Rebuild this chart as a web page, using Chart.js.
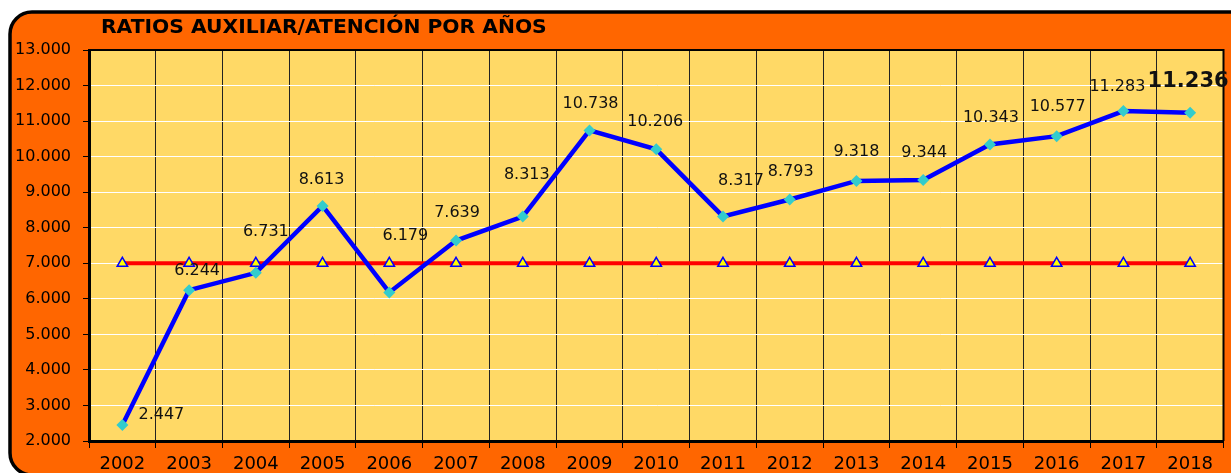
<!DOCTYPE html>
<html>
<head>
<meta charset="utf-8">
<script src="https://cdn.jsdelivr.net/npm/chart.js@4/dist/chart.umd.min.js"></script>
<style>
  body { margin: 0; background: #fff; }
  canvas { display: block; }
</style>
</head>
<body>
<canvas id="grafic" width="1231" height="473"></canvas>
<script>
var titol = 'RATIOS AUXILIAR/ATENCIÓN POR AÑOS';
var anys = ['2002', '2003', '2004', '2005', '2006', '2007', '2008', '2009', '2010',
            '2011', '2012', '2013', '2014', '2015', '2016', '2017', '2018'];
var ratios = [2447, 6244, 6731, 8613, 6179, 7639, 8313, 10738, 10206,
              8317, 8793, 9318, 9344, 10343, 10577, 11283, 11236];
var referencia = [7000, 7000, 7000, 7000, 7000, 7000, 7000, 7000, 7000,
                  7000, 7000, 7000, 7000, 7000, 7000, 7000, 7000];

// desplaçament de cada etiqueta respecte al seu punt (dx, dy)
var despl = [[39, -10], [8, -19], [10, -41], [-1, -26], [16, -57], [1, -28], [4, -42],
             [1, -27], [-1, -27], [18, -36], [1, -28], [0, -29], [1, -27], [1, -27],
             [1, -29], [-6, -24], [-2, -31]];

function format(v) {
    return (v / 1000).toFixed(3);
}

function rodo(ctx, x, y, w, h, r) {
    ctx.beginPath();
    ctx.moveTo(x + r, y);
    ctx.lineTo(x + w - r, y);
    ctx.arcTo(x + w, y, x + w, y + r, r);
    ctx.lineTo(x + w, y + h - r);
    ctx.arcTo(x + w, y + h, x + w - r, y + h, r);
    ctx.lineTo(x + r, y + h);
    ctx.arcTo(x, y + h, x, y + h - r, r);
    ctx.lineTo(x, y + r);
    ctx.arcTo(x, y, x + r, y, r);
    ctx.closePath();
}

var fons = {
    id: 'fons',
    beforeDraw: function(chart) {
        var ctx = chart.ctx;
        var a = chart.chartArea;
        ctx.save();
        ctx.fillStyle = '#ffffff';
        ctx.fillRect(0, 0, chart.width, chart.height);
        rodo(ctx, 10, 12, chart.width + 30, chart.height - 10, 22);
        ctx.fillStyle = '#FF6600';
        ctx.fill();
        ctx.lineWidth = 3.5;
        ctx.strokeStyle = '#000';
        ctx.stroke();
        ctx.fillStyle = '#FFD966';
        ctx.fillRect(a.left, a.top, a.right - a.left, a.bottom - a.top);
        ctx.fillStyle = '#000';
        ctx.font = 'bold 20.3px "DejaVu Sans"';
        ctx.textAlign = 'left';
        ctx.textBaseline = 'middle';
        ctx.fillText(titol, 101, 28);
        ctx.restore();
    },
    beforeDatasetsDraw: function(chart) {
        var ctx = chart.ctx;
        var a = chart.chartArea;
        ctx.save();
        ctx.strokeStyle = '#000';
        ctx.lineWidth = 2;
        ctx.beginPath();
        ctx.moveTo(a.left, a.top);
        ctx.lineTo(a.right, a.top);
        ctx.lineTo(a.right, a.bottom);
        ctx.stroke();
        ctx.restore();
    },
    afterDatasetsDraw: function(chart) {
        var ctx = chart.ctx;
        var punts = chart.getDatasetMeta(0).data;
        ctx.save();
        ctx.fillStyle = '#111';
        ctx.textAlign = 'center';
        ctx.textBaseline = 'middle';
        for (var i = 0; i < punts.length; i++) {
            var p = punts[i];
            if (i == punts.length - 1) {
                ctx.font = 'bold 21px "DejaVu Sans"';
            } else {
                ctx.font = '16px "DejaVu Sans"';
            }
            ctx.fillText(format(ratios[i]), p.x + despl[i][0], p.y + despl[i][1]);
        }
        ctx.restore();
    }
};

var ctx = document.getElementById('grafic').getContext('2d');
var grafic = new Chart(ctx, {
    type: 'line',
    data: {
        labels: anys,
        datasets: [{
            data: ratios,
            borderColor: '#0000FF',
            borderWidth: 4.5,
            pointStyle: 'rectRot',
            pointRadius: 6,
            pointBackgroundColor: '#33CCCC',
            pointBorderColor: '#33CCCC',
            pointBorderWidth: 0,
            tension: 0
        }, {
            data: referencia,
            borderColor: '#FF0000',
            borderWidth: 4,
            pointStyle: 'triangle',
            pointRadius: 6,
            pointBackgroundColor: '#FFFF00',
            pointBorderColor: '#0000FF',
            pointBorderWidth: 1.5,
            tension: 0
        }]
    },
    options: {
        responsive: false,
        animation: false,
        layout: { padding: { left: 0, top: 50, right: 4, bottom: 0 } },
        plugins: {
            legend: { display: false },
            tooltip: { enabled: false },
            title: { display: false }
        },
        scales: {
            x: {
                offset: true,
                grid: { offset: true, color: '#222', lineWidth: 1, tickColor: '#000', tickLength: 7 },
                border: { color: '#000', width: 3 },
                ticks: {
                    color: '#000',
                    font: { family: 'DejaVu Sans', size: 18 },
                    padding: 6,
                    maxRotation: 0,
                    autoSkip: false
                },
                afterFit: function(s) { s.height = 32; }
            },
            y: {
                min: 2000,
                max: 13000,
                grid: { color: '#ffffff', lineWidth: 1, tickColor: '#000', tickLength: 6 },
                border: { color: '#000', width: 3 },
                ticks: {
                    stepSize: 1000,
                    color: '#000',
                    font: { family: 'DejaVu Sans', size: 16 },
                    padding: 12,
                    callback: function(v) { return format(v); }
                },
                afterFit: function(s) { s.width = 89; }
            }
        }
    },
    plugins: [fons]
});
</script>
</body>
</html>
